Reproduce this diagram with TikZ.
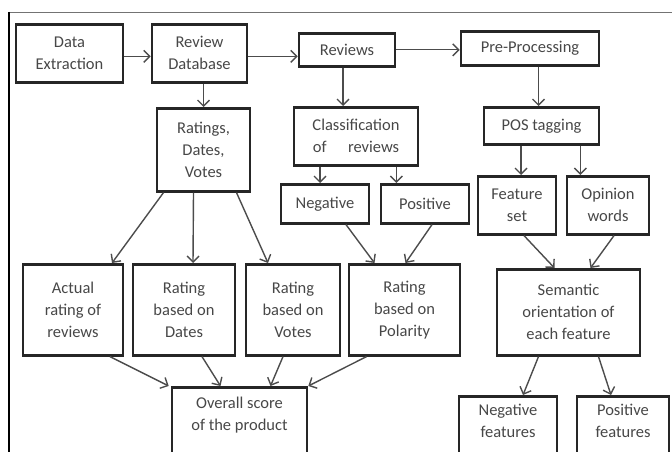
\documentclass[tikz,border=0pt]{standalone}
\usepackage{fontspec}
\setmainfont{Carlito}
\usetikzlibrary{arrows.meta, positioning}

\begin{document}
\begin{tikzpicture}[
  x=1pt, y=-1pt,
  box/.style={
    draw=black!85, line width=2.6pt, align=center, inner sep=2pt,
    text=black!72, font=\fontsize{16.5}{22}\selectfont
  },
  flow/.style={
    draw=black!70, line width=1.4pt,
    -{Straight Barb[length=6pt, width=12pt, line width=1.4pt]}
  },
  frame/.style={draw=black!55, line width=0.9pt}
]
\useasboundingbox (0,0) rectangle (672,452);

% frame of the figure
\draw[frame] (9,12) -- (672,12);
\draw[frame, draw=black, line width=2pt] (9,12) -- (9,452);

% first row
\node[box, anchor=north, minimum width=107, minimum height=58] (extract) at (69.5,23) {Data\\Extraction};
\node[box, anchor=north, minimum width=95, minimum height=58] (revdb) at (199.5,23) {Review\\Database};
\node[box, anchor=north, minimum width=96, minimum height=33] (reviews) at (347,32) {Reviews};
\node[box, anchor=north, minimum width=138, minimum height=34] (preproc) at (530,30) {Pre-Processing};

% second row
\node[box, anchor=north, minimum width=93, minimum height=83] (ratings) at (203.5,107) {Ratings,\\Dates,\\Votes};
\node[box, anchor=north, minimum width=124, minimum height=58] (classif) at (356,106) {Classification\\of\hspace{1.3em}reviews};
\node[box, anchor=north, minimum width=115, minimum height=37] (pos) at (541.5,106) {POS tagging};

% third row
\node[box, anchor=north, minimum width=88, minimum height=39] (neg) at (325,183) {Negative};
\node[box, anchor=north, minimum width=88, minimum height=39] (posit) at (425,183) {Positive};
\node[box, anchor=north, minimum width=78, minimum height=58] (featset) at (517,175) {Feature\\set};
\node[box, anchor=north, minimum width=82, minimum height=58] (opinion) at (608,175) {Opinion\\words};

% fourth row
\node[box, anchor=north, minimum width=100, minimum height=91] (actual) at (73,263) {Actual\\rating of\\reviews};
\node[box, anchor=north, minimum width=102, minimum height=91] (rdates) at (184,263) {Rating\\based on\\Dates};
\node[box, anchor=north, minimum width=94, minimum height=91] (rvotes) at (293,263) {Rating\\based on\\Votes};
\node[box, anchor=north, minimum width=111, minimum height=91] (rpolar) at (404.5,263) {Rating\\based on\\Polarity};
\node[box, anchor=north, minimum width=143, minimum height=86] (semantic) at (568.5,268) {Semantic\\orientation of\\each feature};

% last row (cut at the bottom edge)
\node[box, anchor=north, minimum width=135, minimum height=92] (overall) at (239.5,386) {Overall score\\of the product\\[18pt]~};
\node[box, anchor=north, minimum width=98, minimum height=92] (negfeat) at (508,395) {Negative\\features\\[22pt]~};
\node[box, anchor=north, minimum width=92, minimum height=92] (posfeat) at (623,395) {Positive\\features\\[22pt]~};

% connectors
\draw[flow] ([yshift=-3pt]extract.east) -- ([yshift=-3pt]revdb.west);
\draw[flow] ([yshift=-3pt]revdb.east) -- ([yshift=-3pt]revdb.east -| reviews.west);
\draw[flow] (reviews.east) -- (reviews.east -| preproc.west);
\draw[flow] (ratings.north |- revdb.south) -- (ratings.north);
\draw[flow] ([xshift=-4pt]reviews.south) -- ([xshift=-4pt]reviews.south |- classif.north);
\draw[flow] ([xshift=-3pt]pos.north |- preproc.south) -- ([xshift=-3pt]pos.north);
\draw[flow] ([xshift=-5pt]neg.north |- classif.south) -- ([xshift=-5pt]neg.north);
\draw[flow] ([xshift=-23pt]classif.south east) -- ([xshift=-23pt]classif.south east |- posit.north);
\draw[flow] ([xshift=4pt]featset.north |- pos.south) -- ([xshift=4pt]featset.north);
\draw[flow] ([xshift=-20pt]pos.south east) -- ([xshift=-20pt]pos.south east |- opinion.north);

\draw[flow] ([xshift=-40pt]ratings.south) -- ([xshift=39pt]actual.north);
\draw[flow] ([xshift=-10pt]ratings.south) -- ([xshift=9pt]rdates.north);
\draw[flow] ([xshift=33pt]ratings.south) -- ([xshift=-25pt]rvotes.north);
\draw[flow] ([xshift=21pt]neg.south) -- ([xshift=-30pt]rpolar.north);
\draw[flow] ([xshift=7pt]posit.south) -- ([xshift=1pt]rpolar.north);
\draw[flow] ([xshift=7pt]featset.south) -- ([xshift=-14pt]semantic.north);
\draw[flow] ([xshift=6pt]opinion.south) -- ([xshift=22pt]semantic.north);
\draw[flow] ([xshift=-30pt]semantic.south) -- ([xshift=15pt]negfeat.north);
\draw[flow] ([xshift=30pt]semantic.south) -- ([xshift=-12pt]posfeat.north);

\draw[flow] ([xshift=37pt]actual.south) -- ([xshift=-2pt]overall.north west);
\draw[flow] ([xshift=18pt]rdates.south) -- ([xshift=-19pt]overall.north);
\draw[flow] ([xshift=-10pt]rvotes.south) -- ([xshift=31pt]overall.north);
\draw[flow] ([xshift=-38pt]rpolar.south) -- (overall.north east);
\end{tikzpicture}
\end{document}
